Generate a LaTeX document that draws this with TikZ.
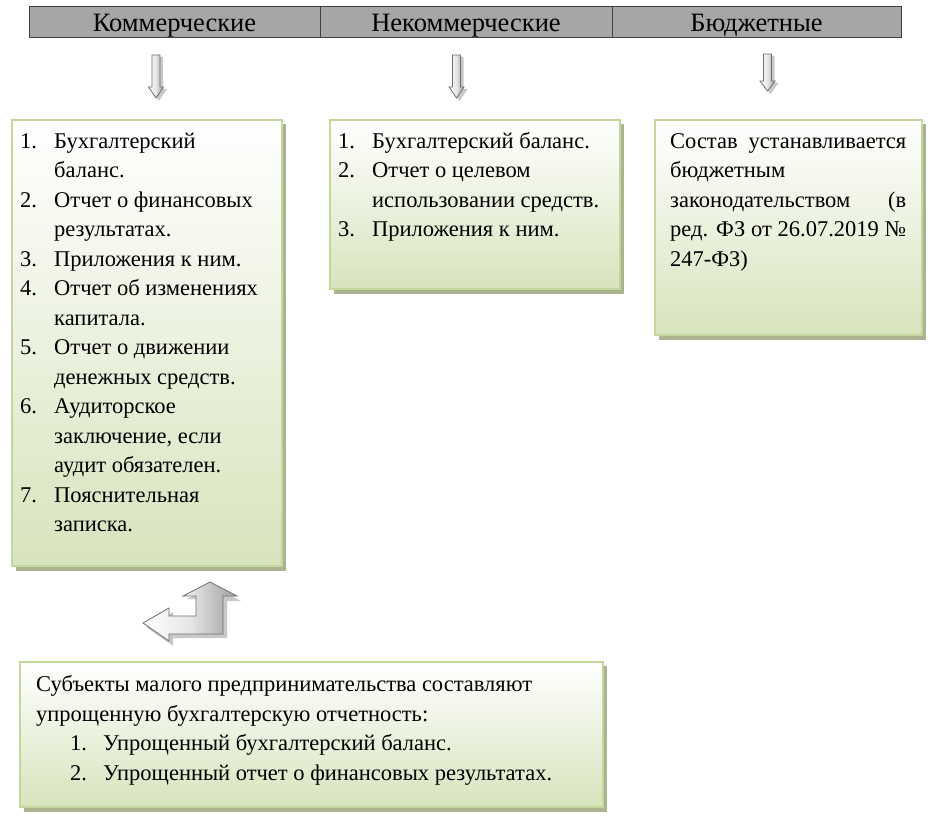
\documentclass[tikz,border=0pt]{standalone}
\usepackage{fontspec}
\setmainfont{Liberation Serif}
\usetikzlibrary{shadings}
\definecolor{boxgreen}{RGB}{215,228,189}
\definecolor{boxborder}{RGB}{195,214,155}
\definecolor{boxshadow}{RGB}{170,180,145}
\definecolor{hdrgray}{RGB}{166,166,166}
\definecolor{hdrline}{RGB}{64,64,64}
\definecolor{arrline}{RGB}{110,110,110}
\definecolor{arrshadow}{RGB}{200,200,200}
\tikzset{
  gbox/.style={draw=boxborder, line width=1.5pt, top color=white, bottom color=boxgreen, shading angle=0},
  gshadow/.style={fill=boxshadow, draw=none},
  hdrcell/.style={draw=hdrline, fill=hdrgray, line width=0.8pt},
  hdrtext/.style={inner sep=0, anchor=base, font=\fontsize{26.5}{26.5}\selectfont},
  btext/.style={inner sep=0, anchor=base west, align=left, font=\fontsize{22.5}{29.5}\selectfont},
  arrowshape/.style={draw=arrline, line width=0.8pt, left color=white, right color=gray!75, middle color=gray!20},
  arrowshadow/.style={fill=arrshadow, draw=none},
}
\begin{document}
\begin{tikzpicture}[x=1pt,y=-1pt]
\useasboundingbox (0,0) rectangle (935,818);
% header
\draw[hdrcell] (29,6) rectangle (901,37);
\draw[hdrline, line width=0.8pt] (320,6) -- (320,37) (612,6) -- (612,37);
\node[hdrtext] (h1) at (174.5,31.5) {Коммерческие};
\node[hdrtext] (h2) at (466,31.5) {Некоммерческие};
\node[hdrtext] (h3) at (756.5,31.5) {Бюджетные};
% down arrows
\foreach \cx/\top/\hy/\tip in {156/55/87/98, 456.5/55/87/98, 767.5/54/81/91}{
  \fill[arrowshadow] ({\cx-4+3},{\top+2}) -- ({\cx+4+3},{\top+2}) -- ({\cx+4+3},{\hy+2}) -- ({\cx+8+3},{\hy+2}) -- ({\cx+3},{\tip+3}) -- ({\cx-8+3},{\hy+2}) -- ({\cx-4+3},{\hy+2}) -- cycle;
  \draw[arrowshape] ({\cx-4},\top) -- ({\cx+4},\top) -- ({\cx+4},\hy) -- ({\cx+7.5},\hy) -- (\cx,\tip) -- ({\cx-7.5},\hy) -- ({\cx-4},\hy) -- cycle;
}
% boxes
\fill[gshadow] (16,124) rectangle (286,571);
\path[gbox] (12,120) rectangle (282,566);
\fill[gshadow] (334,124) rectangle (624,294);
\path[gbox] (330,120) rectangle (620,289);
\fill[gshadow] (659,124) rectangle (926,340);
\path[gbox] (655,120) rectangle (922,335);
\fill[gshadow] (24,666) rectangle (607,812);
\path[gbox] (20,662) rectangle (603,807);
% box 1 text
\node[btext] (t1) at (20,148.5) {\begin{tabular}[t]{@{}p{34pt}@{}l@{}}
1. & Бухгалтерский\\
   & баланс.\\
2. & Отчет о финансовых\\
   & результатах.\\
3. & Приложения к ним.\\
4. & Отчет об изменениях\\
   & капитала.\\
5. & Отчет о движении\\
   & денежных средств.\\
6. & Аудиторское\\
   & заключение, если\\
   & аудит обязателен.\\
7. & Пояснительная\\
   & записка.
\end{tabular}};
% box 2 text
\node[btext] (t2) at (338,148.5) {\begin{tabular}[t]{@{}p{34pt}@{}l@{}}
1. & Бухгалтерский баланс.\\
2. & Отчет о целевом\\
   & использовании средств.\\
3. & Приложения к ним.
\end{tabular}};
% box 3 text
\node[btext] (t3) at (670,148.5) {\begin{tabular}[t]{@{}l@{}}
\makebox[236pt][s]{Состав\hfill устанавливается}\\
бюджетным\\
\makebox[236pt][s]{законодательством\hfill (в}\\
\makebox[236pt][s]{ред. ФЗ от 26.07.2019 №}\\
247-ФЗ)
\end{tabular}};
% box 4 text
\node[btext] (t4) at (36,691.5) {\begin{tabular}[t]{@{}p{34pt}@{}p{33pt}@{}l@{}}
\multicolumn{3}{@{}l@{}}{Субъекты малого предпринимательства составляют}\\
\multicolumn{3}{@{}l@{}}{упрощенную бухгалтерскую отчетность:}\\
 & 1. & Упрощенный бухгалтерский баланс.\\
 & 2. & Упрощенный отчет о финансовых результатах.
\end{tabular}};
% bent arrow
\fill[arrowshadow] (146,627) -- (173,612) -- (173,620) -- (199,620) -- (199,599) -- (187,599) -- (213,586) -- (241,601) -- (227,601) -- (227,638) -- (173,638) -- (173,646) -- cycle;
\draw[arrowshape] (143,623) -- (169,608) -- (169,616) -- (196,616) -- (196,596) -- (183,596) -- (210,582) -- (237,596) -- (223,596) -- (223,634) -- (169,634) -- (169,641) -- cycle;
\end{tikzpicture}
\end{document}
